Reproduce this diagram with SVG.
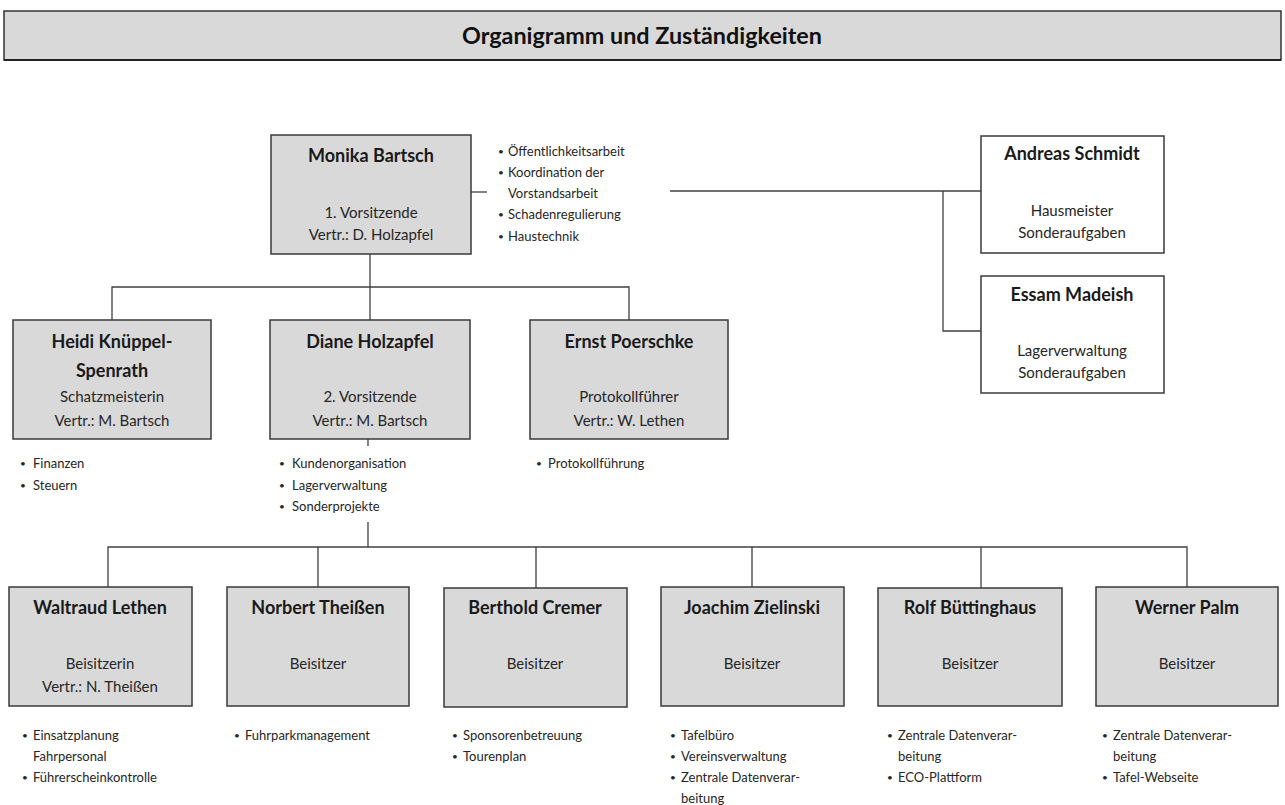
<svg xmlns="http://www.w3.org/2000/svg" width="1285" height="805" viewBox="0 0 1285 805">
<style>
.box{fill:#d9d9d9;stroke:#3a3a3a;stroke-width:1.5}
.wbox{fill:#ffffff;stroke:#3a3a3a;stroke-width:1.5}
.name{font-family:Lato,"Liberation Sans",sans-serif;font-weight:bold;font-size:18px;fill:#1a1a1a;text-anchor:middle}
.role{font-family:Lato,"Liberation Sans",sans-serif;font-size:15px;fill:#262626;text-anchor:middle}
.bul{font-family:Lato,"Liberation Sans",sans-serif;font-size:13px;fill:#262626}
.dot{font-family:Lato,"Liberation Sans",sans-serif;font-size:10px;fill:#262626}
.con{fill:none;stroke:#404040;stroke-width:1.3}
</style>
<rect width="1285" height="805" fill="#ffffff"/>
<g id="title">
<rect x="4" y="11" width="1277" height="49" fill="#d9d9d9" stroke="#333333" stroke-width="1.5"/>
<line x1="4" y1="60" x2="1281" y2="60" stroke="#222" stroke-width="2"/>
<text x="642" y="44" font-family="Lato,'Liberation Sans',sans-serif" font-weight="bold" font-size="22" fill="#111" text-anchor="middle" textLength="360" lengthAdjust="spacingAndGlyphs">Organigramm und Zuständigkeiten</text>
</g>
<g id="connectors">
<path class="con" d="M471 192H487"/>
<path class="con" d="M670 191H981"/>
<path class="con" d="M943 191V331H981"/>
<path class="con" d="M370 254V320"/>
<path class="con" d="M112 320V287H629V320"/>
<path class="con" d="M368 439V446"/>
<path class="con" d="M368 522V547"/>
<path class="con" d="M108 587V547H1187V587"/>
<path class="con" d="M318 547V587M536 547V588M752 547V587M981 547V588"/>
</g>
<g id="monika">
<rect class="box" x="271" y="135" width="200" height="119"/>
<text class="name" x="371" y="162">Monika Bartsch</text>
<text class="role" x="371" y="218">1. Vorsitzende</text>
<text class="role" x="371" y="240">Vertr.:  D. Holzapfel</text>
<text class="dot" x="498" y="155">•</text><text class="bul" x="508" y="156">Öffentlichkeitsarbeit</text>
<text class="dot" x="498" y="176">•</text><text class="bul" x="508" y="177">Koordination der</text>
<text class="bul" x="508" y="198">Vorstandsarbeit</text>
<text class="dot" x="498" y="218">•</text><text class="bul" x="508" y="219">Schadenregulierung</text>
<text class="dot" x="498" y="240">•</text><text class="bul" x="508" y="241">Haustechnik</text>
</g>
<g id="andreas">
<rect class="wbox" x="981" y="136" width="183" height="117"/>
<text class="name" x="1072" y="160">Andreas Schmidt</text>
<text class="role" x="1072" y="216">Hausmeister</text>
<text class="role" x="1072" y="238">Sonderaufgaben</text>
</g>
<g id="essam">
<rect class="wbox" x="981" y="276" width="183" height="117"/>
<text class="name" x="1072" y="301">Essam Madeish</text>
<text class="role" x="1072" y="356">Lagerverwaltung</text>
<text class="role" x="1072" y="378">Sonderaufgaben</text>
</g>
<g id="heidi">
<rect class="box" x="13" y="320" width="198" height="119"/>
<text class="name" x="112" y="348">Heidi Knüppel-</text>
<text class="name" x="112" y="377">Spenrath</text>
<text class="role" x="112" y="402">Schatzmeisterin</text>
<text class="role" x="112" y="426">Vertr.:  M. Bartsch</text>
<text class="dot" x="20" y="467">•</text><text class="bul" x="33" y="468">Finanzen</text>
<text class="dot" x="20" y="489">•</text><text class="bul" x="33" y="490">Steuern</text>
</g>
<g id="diane">
<rect class="box" x="270" y="320" width="200" height="119"/>
<text class="name" x="370" y="348">Diane Holzapfel</text>
<text class="role" x="370" y="402">2. Vorsitzende</text>
<text class="role" x="370" y="426">Vertr.:  M. Bartsch</text>
<text class="dot" x="279" y="467">•</text><text class="bul" x="292" y="468">Kundenorganisation</text>
<text class="dot" x="279" y="489">•</text><text class="bul" x="292" y="490">Lagerverwaltung</text>
<text class="dot" x="279" y="510">•</text><text class="bul" x="292" y="511">Sonderprojekte</text>
</g>
<g id="ernst">
<rect class="box" x="530" y="320" width="198" height="119"/>
<text class="name" x="629" y="348">Ernst Poerschke</text>
<text class="role" x="629" y="402">Protokollführer</text>
<text class="role" x="629" y="426">Vertr.:  W. Lethen</text>
<text class="dot" x="536" y="467">•</text><text class="bul" x="548" y="468">Protokollführung</text>
</g>
<g id="waltraud">
<rect class="box" x="9" y="587" width="183" height="119"/>
<text class="name" x="100" y="614">Waltraud Lethen</text>
<text class="role" x="100" y="669">Beisitzerin</text>
<text class="role" x="100" y="692">Vertr.:  N. Theißen</text>
<text class="dot" x="22" y="739">•</text><text class="bul" x="33" y="740">Einsatzplanung</text>
<text class="bul" x="33" y="761">Fahrpersonal</text>
<text class="dot" x="22" y="781">•</text><text class="bul" x="33" y="782">Führerscheinkontrolle</text>
</g>
<g id="norbert">
<rect class="box" x="227" y="587" width="182" height="119"/>
<text class="name" x="318" y="614">Norbert Theißen</text>
<text class="role" x="318" y="669">Beisitzer</text>
<text class="dot" x="234" y="739">•</text><text class="bul" x="245" y="740">Fuhrparkmanagement</text>
</g>
<g id="berthold">
<rect class="box" x="444" y="588" width="183" height="119"/>
<text class="name" x="535" y="614">Berthold Cremer</text>
<text class="role" x="535" y="669">Beisitzer</text>
<text class="dot" x="452" y="739">•</text><text class="bul" x="463" y="740">Sponsorenbetreuung</text>
<text class="dot" x="452" y="760">•</text><text class="bul" x="463" y="761">Tourenplan</text>
</g>
<g id="joachim">
<rect class="box" x="661" y="587" width="183" height="119"/>
<text class="name" x="752" y="614">Joachim Zielinski</text>
<text class="role" x="752" y="669">Beisitzer</text>
<text class="dot" x="670" y="739">•</text><text class="bul" x="681" y="740">Tafelbüro</text>
<text class="dot" x="670" y="760">•</text><text class="bul" x="681" y="761">Vereinsverwaltung</text>
<text class="dot" x="670" y="781">•</text><text class="bul" x="681" y="782">Zentrale Datenverar-</text>
<text class="bul" x="681" y="803">beitung</text>
</g>
<g id="rolf">
<rect class="box" x="878" y="588" width="184" height="118"/>
<text class="name" x="970" y="614">Rolf Büttinghaus</text>
<text class="role" x="970" y="669">Beisitzer</text>
<text class="dot" x="887" y="739">•</text><text class="bul" x="898" y="740">Zentrale Datenverar-</text>
<text class="bul" x="898" y="761">beitung</text>
<text class="dot" x="887" y="781">•</text><text class="bul" x="898" y="782">ECO-Plattform</text>
</g>
<g id="werner">
<rect class="box" x="1096" y="587" width="182" height="119"/>
<text class="name" x="1187" y="614">Werner Palm</text>
<text class="role" x="1187" y="669">Beisitzer</text>
<text class="dot" x="1102" y="739">•</text><text class="bul" x="1113" y="740">Zentrale Datenverar-</text>
<text class="bul" x="1113" y="761">beitung</text>
<text class="dot" x="1102" y="781">•</text><text class="bul" x="1113" y="782">Tafel-Webseite</text>
</g>
</svg>
